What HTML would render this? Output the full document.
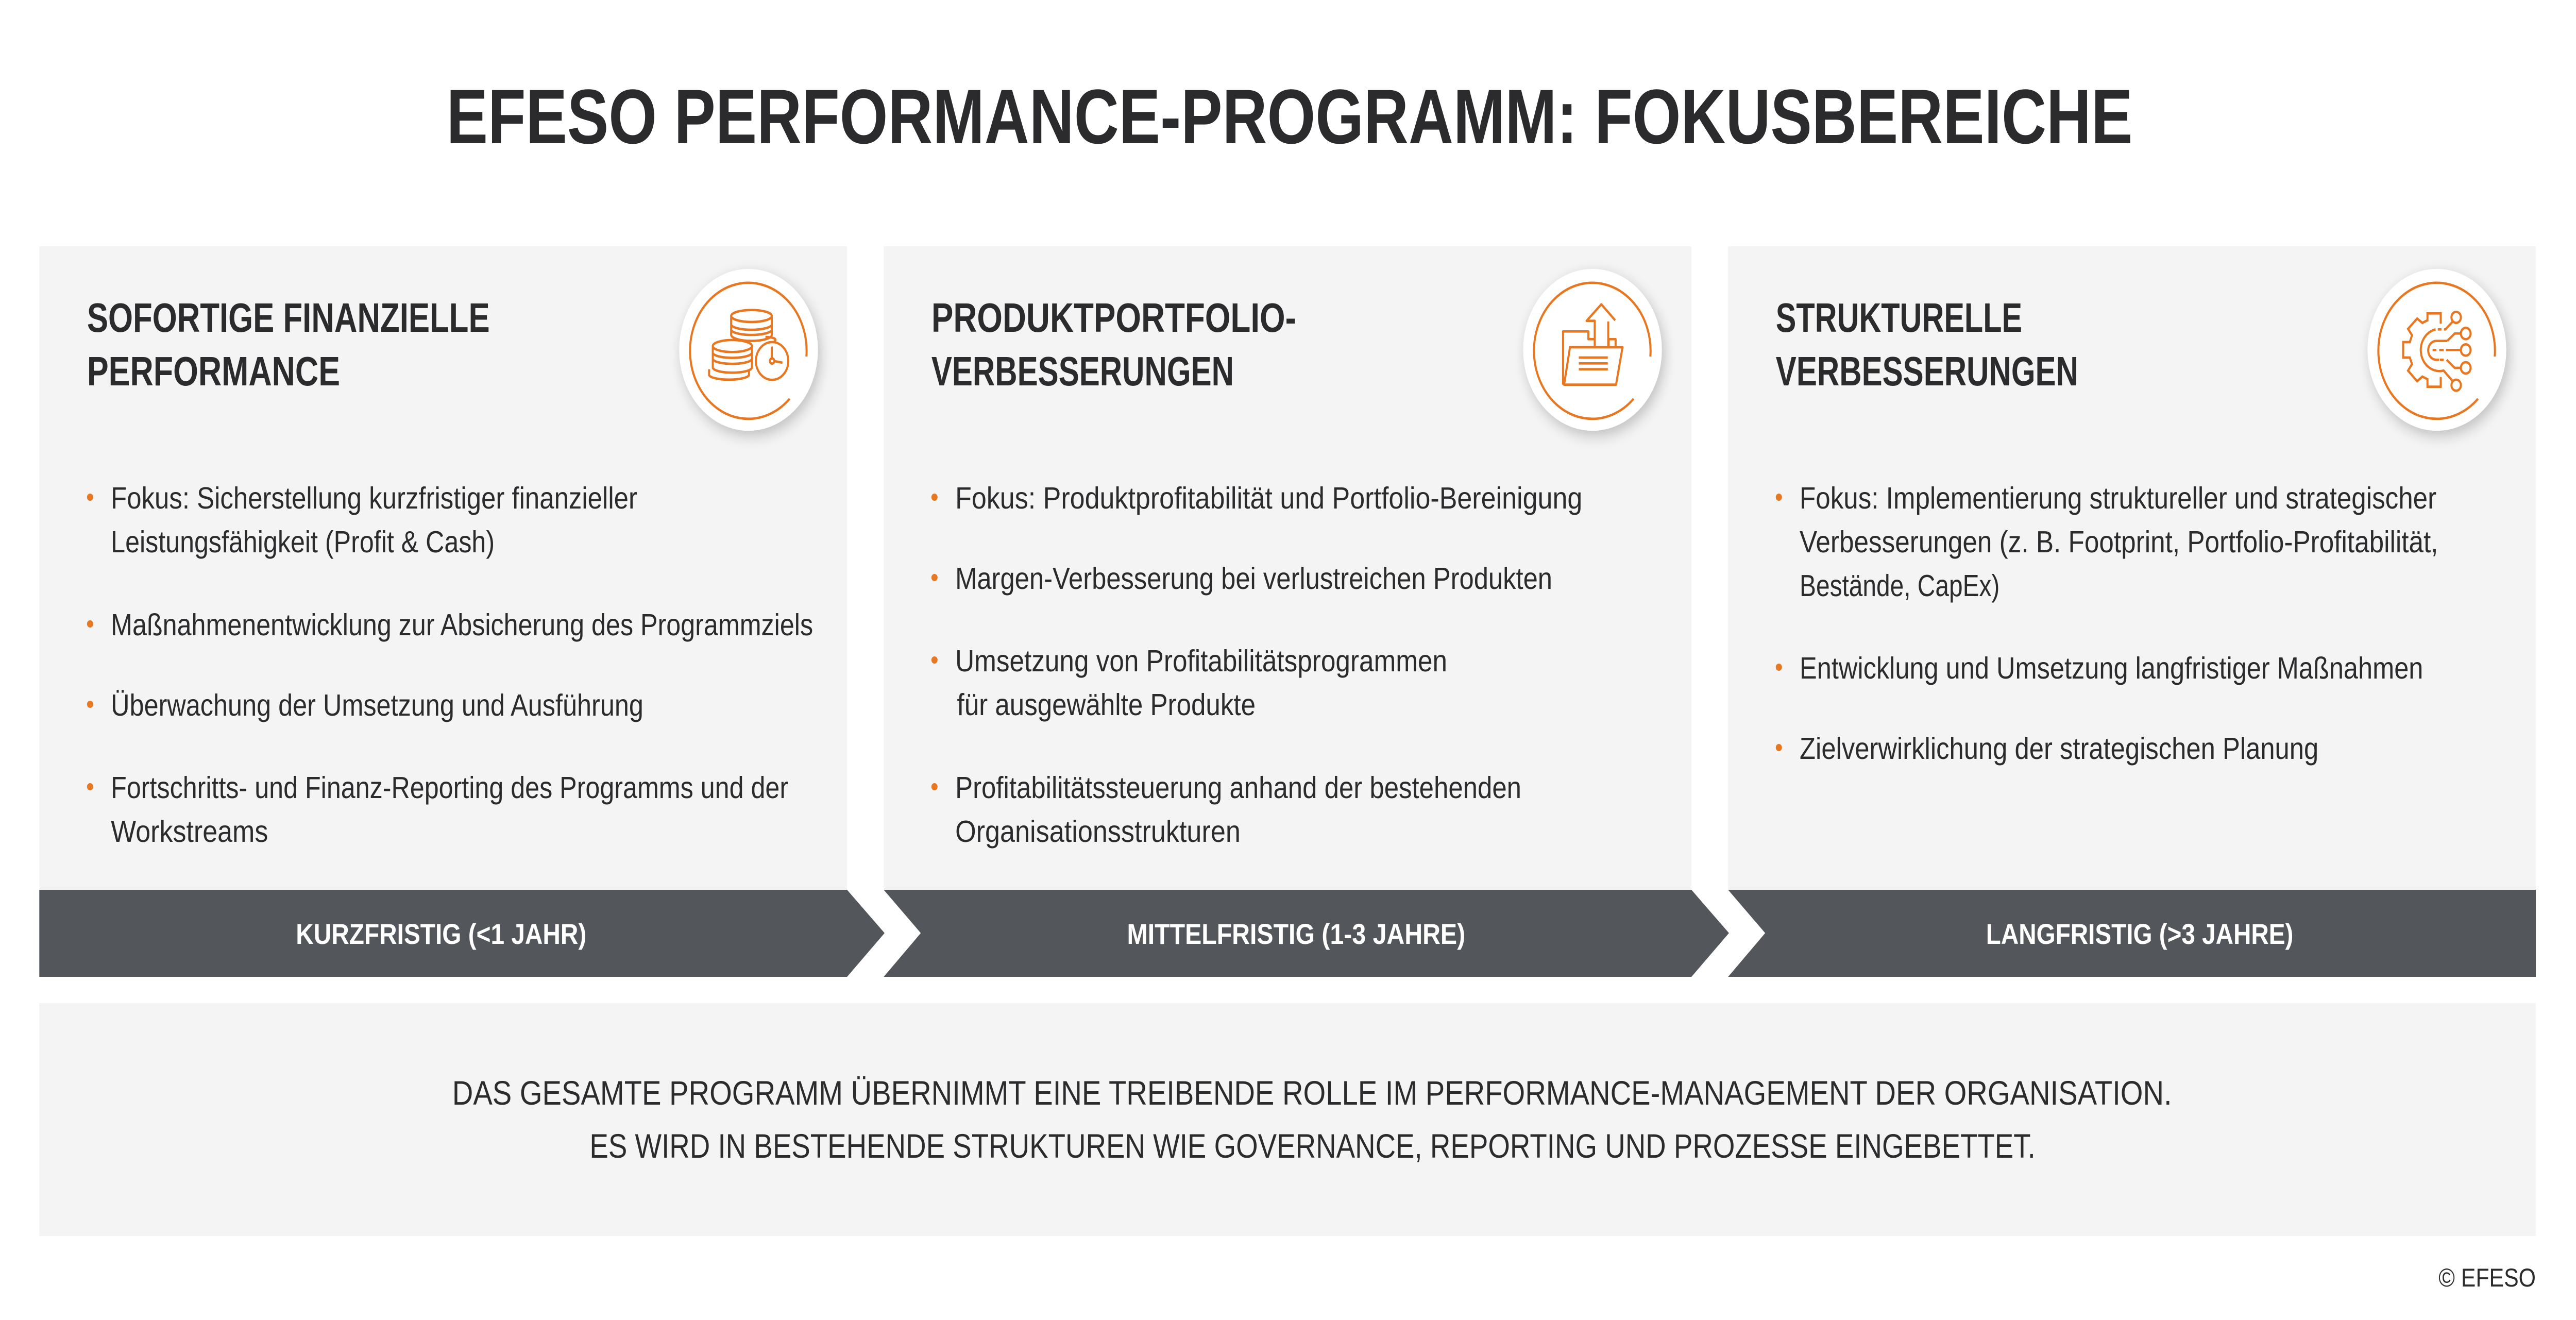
<!DOCTYPE html>
<html><head><meta charset="utf-8"><style>html,body{margin:0;padding:0;background:#fff;overflow:hidden}svg{display:block;width:100vw;height:100vh}</style></head>
<body>
<svg viewBox="0 0 5833 2562" preserveAspectRatio="none" xmlns="http://www.w3.org/2000/svg" font-family="'Liberation Sans', sans-serif">
<defs>
<filter id="sh" x="-30%" y="-30%" width="160%" height="160%"><feGaussianBlur in="SourceAlpha" stdDeviation="14"/><feOffset dx="6" dy="10"/><feComponentTransfer><feFuncA type="linear" slope="0.22"/></feComponentTransfer><feMerge><feMergeNode/><feMergeNode in="SourceGraphic"/></feMerge></filter>
</defs>
<rect width="5833" height="2562" fill="#fff"/>
<text x="1011" y="278" font-size="150" font-weight="bold" fill="#2b2b2d" textLength="3818" lengthAdjust="spacingAndGlyphs">EFESO PERFORMANCE-PROGRAMM: FOKUSBEREICHE</text>

<rect x="89" y="478" width="1829" height="1250" fill="#f4f4f4"/>
<rect x="2001" y="478" width="1829" height="1250" fill="#f4f4f4"/>
<rect x="3913" y="478" width="1829" height="1250" fill="#f4f4f4"/>

<g fill="#53565a">
<polygon points="89,1727 1918,1727 2003,1811 1918,1896 89,1896"/>
<polygon points="2001,1727 3830,1727 3915,1811 3830,1896 2001,1896 2085,1811"/>
<polygon points="3913,1727 5742,1727 5742,1896 3913,1896 3997,1811"/>
</g>
<g fill="#fff" font-size="56" font-weight="bold">
<text x="670" y="1832" textLength="658" lengthAdjust="spacingAndGlyphs">KURZFRISTIG (&lt;1 JAHR)</text>
<text x="2552" y="1832" textLength="766" lengthAdjust="spacingAndGlyphs">MITTELFRISTIG (1-3 JAHRE)</text>
<text x="4497" y="1832" textLength="696" lengthAdjust="spacingAndGlyphs">LANGFRISTIG (&gt;3 JAHRE)</text>
</g>

<rect x="89" y="1947" width="5653" height="452" fill="#f4f4f4"/>
<g fill="#2b2b2d" font-size="66">
<text x="1024" y="2144" textLength="3894" lengthAdjust="spacingAndGlyphs">DAS GESAMTE PROGRAMM ÜBERNIMMT EINE TREIBENDE ROLLE IM PERFORMANCE-MANAGEMENT DER ORGANISATION.</text>
<text x="1335" y="2247" textLength="3274" lengthAdjust="spacingAndGlyphs">ES WIRD IN BESTEHENDE STRUKTUREN WIE GOVERNANCE, REPORTING UND PROZESSE EINGEBETTET.</text>
</g>
<text x="5742" y="2497" font-size="50" fill="#2b2b2d" text-anchor="end">© EFESO</text>

<g fill="#2b2b2d" font-size="80" font-weight="bold">
<text x="197" y="644" textLength="912" lengthAdjust="spacingAndGlyphs">SOFORTIGE FINANZIELLE</text>
<text x="197" y="748" textLength="573" lengthAdjust="spacingAndGlyphs">PERFORMANCE</text>
<text x="2109" y="644" textLength="826" lengthAdjust="spacingAndGlyphs">PRODUKTPORTFOLIO-</text>
<text x="2109" y="748" textLength="685" lengthAdjust="spacingAndGlyphs">VERBESSERUNGEN</text>
<text x="4021" y="644" textLength="558" lengthAdjust="spacingAndGlyphs">STRUKTURELLE</text>
<text x="4021" y="748" textLength="685" lengthAdjust="spacingAndGlyphs">VERBESSERUNGEN</text>
</g>

<g fill="#e87722">
<circle cx="204" cy="965" r="7"/><circle cx="204" cy="1211" r="7"/><circle cx="204" cy="1367" r="7"/><circle cx="204" cy="1527" r="7"/>
<circle cx="2116" cy="965" r="7"/><circle cx="2116" cy="1121" r="7"/><circle cx="2116" cy="1281" r="7"/><circle cx="2116" cy="1527" r="7"/>
<circle cx="4028" cy="965" r="7"/><circle cx="4028" cy="1295" r="7"/><circle cx="4028" cy="1451" r="7"/>
</g>
<g fill="#2b2b2d" font-size="59">
<text x="251" y="987" textLength="1192" lengthAdjust="spacingAndGlyphs">Fokus: Sicherstellung kurzfristiger finanzieller</text>
<text x="251" y="1072" textLength="869" lengthAdjust="spacingAndGlyphs">Leistungsfähigkeit (Profit &amp; Cash)</text>
<text x="251" y="1233" textLength="1590" lengthAdjust="spacingAndGlyphs">Maßnahmenentwicklung zur Absicherung des Programmziels</text>
<text x="251" y="1389" textLength="1206" lengthAdjust="spacingAndGlyphs">Überwachung der Umsetzung und Ausführung</text>
<text x="251" y="1549" textLength="1534" lengthAdjust="spacingAndGlyphs">Fortschritts- und Finanz-Reporting des Programms und der</text>
<text x="251" y="1634" textLength="356" lengthAdjust="spacingAndGlyphs">Workstreams</text>

<text x="2163" y="987" textLength="1420" lengthAdjust="spacingAndGlyphs">Fokus: Produktprofitabilität und Portfolio-Bereinigung</text>
<text x="2163" y="1143" textLength="1352" lengthAdjust="spacingAndGlyphs">Margen-Verbesserung bei verlustreichen Produkten</text>
<text x="2163" y="1303" textLength="1114" lengthAdjust="spacingAndGlyphs">Umsetzung von Profitabilitätsprogrammen</text>
<text x="2167" y="1388" textLength="676" lengthAdjust="spacingAndGlyphs">für ausgewählte Produkte</text>
<text x="2163" y="1549" textLength="1282" lengthAdjust="spacingAndGlyphs">Profitabilitätssteuerung anhand der bestehenden</text>
<text x="2163" y="1634" textLength="646" lengthAdjust="spacingAndGlyphs">Organisationsstrukturen</text>

<text x="4075" y="987" textLength="1442" lengthAdjust="spacingAndGlyphs">Fokus: Implementierung struktureller und strategischer</text>
<text x="4075" y="1072" textLength="1446" lengthAdjust="spacingAndGlyphs">Verbesserungen (z. B. Footprint, Portfolio-Profitabilität,</text>
<text x="4075" y="1157" textLength="453" lengthAdjust="spacingAndGlyphs">Bestände, CapEx)</text>
<text x="4075" y="1317" textLength="1412" lengthAdjust="spacingAndGlyphs">Entwicklung und Umsetzung langfristiger Maßnahmen</text>
<text x="4075" y="1473" textLength="1175" lengthAdjust="spacingAndGlyphs">Zielverwirklichung der strategischen Planung</text>
</g>

<g fill="#fff" filter="url(#sh)">
<circle cx="1695" cy="679" r="157"/>
<circle cx="3606" cy="679" r="157"/>
<circle cx="5518" cy="679" r="157"/>
</g>
<g fill="none" stroke="#e87722" stroke-width="4.7">
<path d="M1788,774 A132,132 0 1 1 1826,692"/>
<path d="M3699,774 A132,132 0 1 1 3737,692"/>
<path d="M5611,774 A132,132 0 1 1 5649,692"/>
</g>

<g transform="translate(1400,450) scale(0.3333)" fill="none" stroke="#e87722" stroke-width="14" stroke-linejoin="round">
<ellipse cx="905" cy="490" rx="138" ry="35"/>
<path d="M767,490 V600 A138,35 0 0 0 1043,600 V490"/>
<path d="M770,545 A138,32 0 0 0 1040,545"/>
<path d="M770,575 A138,32 0 0 0 1040,575"/>
<path d="M1000,612 Q1070,615 1068,630 Q1060,650 990,655"/>
<path d="M617,800 V835 A137,30 0 0 0 888,835 V805"/>
<path d="M642,665 V790 A133,30 0 0 0 908,790 V665"/>
<ellipse cx="775" cy="665" rx="133" ry="35" fill="#fff"/>
<path d="M645,710 A133,30 0 0 0 905,710"/>
<path d="M645,745 A133,30 0 0 0 905,745"/>
<circle cx="1045" cy="752" r="110" fill="#fff"/>
<path d="M1043,668 V750 L1115,762"/>
<circle cx="1045" cy="752" r="15" fill="#fff"/>
</g>

<g transform="translate(3450,520) scale(0.3333)" fill="none" stroke="#e87722" stroke-width="14" stroke-linejoin="round">
<path d="M268,680 V370 H440 V415 H478"/>
<path d="M578,455 V415 H625 V462"/>
<path d="M483,462 V308 H428 L528,212 L622,305"/>
<path d="M575,312 V462"/>
<path d="M275,680 L315,462 H672 L628,680 Z"/>
<path d="M375,522 H572 M375,556 H572 M375,590 H572"/>
</g>

<g transform="translate(5360,520) scale(0.3333)" fill="none" stroke="#e87722" stroke-width="14" stroke-linejoin="miter">
<path d="M500,325 V265 H410 V305 L375,320 L340,295 L278,355 L305,392 L290,432 H245 V522 H290 L305,560 L278,598 L340,660 L375,633 L410,648 V692 H500 V635"/>
<path d="M465,358 A125,120 0 0 0 520,598 L580,658"/>
<path d="M480,358 H505 M522,358 H532 L585,310"/>
<circle cx="605" cy="288" r="32"/>
<path d="M545,425 H470 A55,55 0 0 0 470,535 H490"/>
<path d="M545,425 L595,382 H635"/>
<circle cx="670" cy="382" r="33"/>
<path d="M445,478 H470 M490,478 H520 M535,478 H635"/>
<circle cx="670" cy="478" r="33"/>
<path d="M495,535 H520 M540,535 L595,582 H635"/>
<circle cx="670" cy="582" r="33"/>
<circle cx="605" cy="683" r="32"/>
</g>
</svg>
</body></html>
